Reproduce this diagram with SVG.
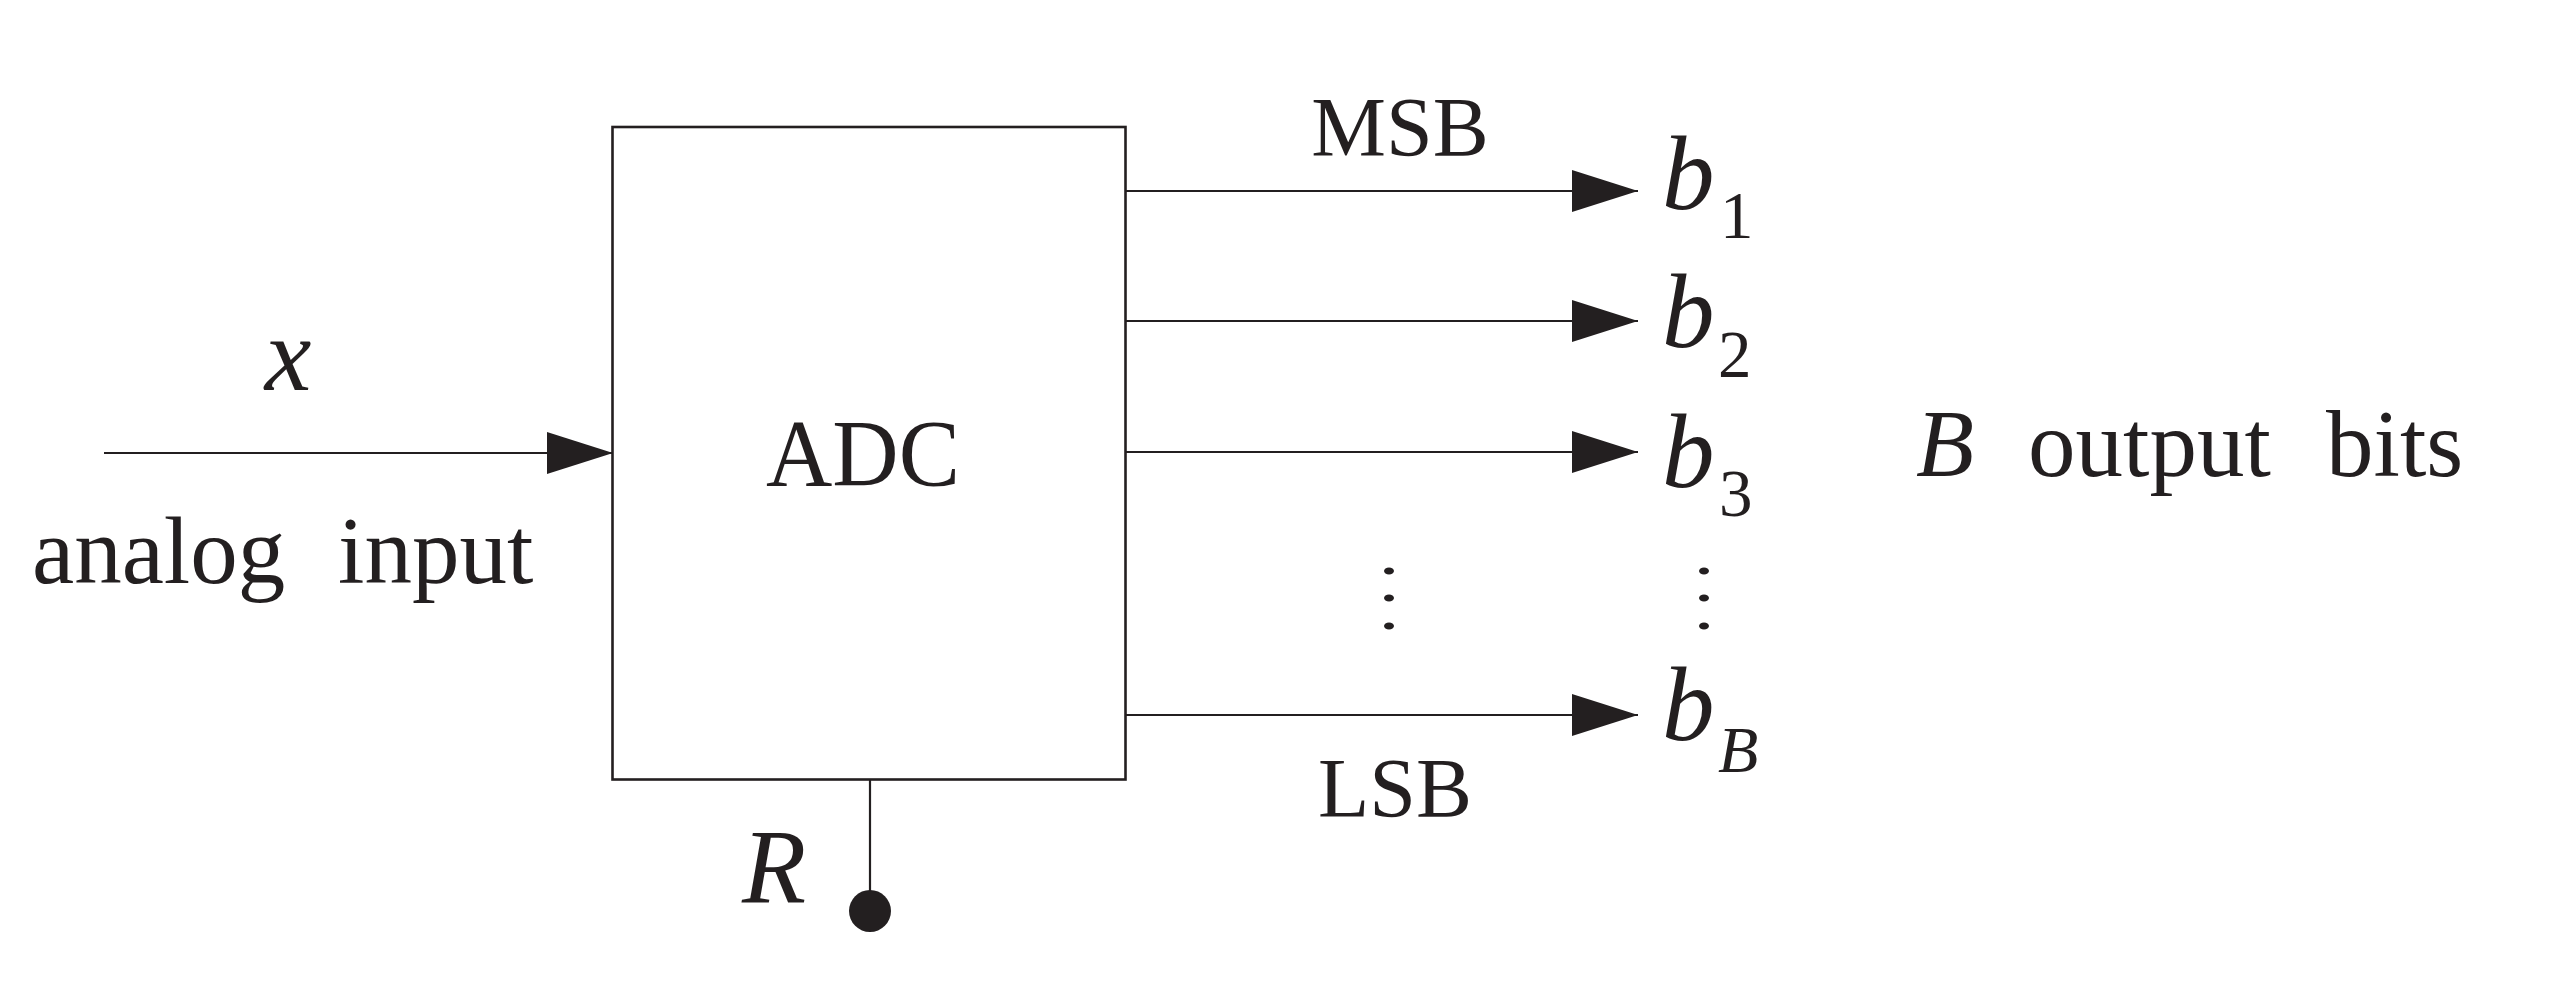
<svg xmlns="http://www.w3.org/2000/svg" width="2552" height="1008" viewBox="0 0 2552 1008">
  <style>
    .ln { stroke: #231f20; stroke-width: 2.2; fill: none; }
    .box { stroke: #231f20; stroke-width: 2.6; fill: #ffffff; }
    .t { font-family: "Liberation Serif", "Times New Roman", serif; fill: #231f20; }
    .rm { font-size: 95px; }
    .sm { font-size: 84px; }
    .mi { font-size: 105px; font-style: italic; }
    .sub { font-size: 67px; }
    .subi { font-size: 66px; font-style: italic; }
    .dot { fill: #231f20; }
  </style>
  <defs>
    <marker id="arr" viewBox="0 0 66 42" refX="66" refY="21" markerWidth="66" markerHeight="42" markerUnits="userSpaceOnUse" orient="auto">
      <path d="M0,0 L66,21 L0,42 Z" fill="#231f20"/>
    </marker>
  </defs>
  <rect width="2552" height="1008" fill="#ffffff"/>

  <g id="connectors">
    <line class="ln" x1="104" y1="453" x2="613" y2="453" marker-end="url(#arr)"/>
    <line class="ln" x1="1126" y1="191" x2="1638" y2="191" marker-end="url(#arr)"/>
    <line class="ln" x1="1126" y1="321" x2="1638" y2="321" marker-end="url(#arr)"/>
    <line class="ln" x1="1126" y1="452" x2="1638" y2="452" marker-end="url(#arr)"/>
    <line class="ln" x1="1126" y1="715" x2="1638" y2="715" marker-end="url(#arr)"/>
    <line class="ln" x1="870" y1="780" x2="870" y2="900"/>
  </g>

  <g id="adc">
    <rect class="box" x="612.5" y="127" width="513" height="652.5"/>
    <text class="t rm" x="863" y="486" text-anchor="middle" textLength="194" lengthAdjust="spacingAndGlyphs">ADC</text>
  </g>

  <g id="input">
    <text class="t mi" x="288" y="390" text-anchor="middle">x</text>
    <text class="t rm" y="583"><tspan x="32">analog</tspan><tspan x="338">input</tspan></text>
  </g>

  <g id="reference">
    <circle class="dot" cx="870" cy="911" r="21"/>
    <text class="t mi" x="742" y="902">R</text>
  </g>

  <g id="outputs">
    <text class="t sm" x="1400" y="156" text-anchor="middle">MSB</text>
    <text class="t sm" x="1395" y="817" text-anchor="middle">LSB</text>
    <text class="t mi" x="1662" y="209">b</text>
    <text class="t sub" x="1720" y="238">1</text>
    <text class="t mi" x="1662" y="347">b</text>
    <text class="t sub" x="1718" y="377">2</text>
    <text class="t mi" x="1662" y="487">b</text>
    <text class="t sub" x="1719" y="516">3</text>
    <text class="t mi" x="1662" y="740">b</text>
    <text class="t subi" x="1718" y="772">B</text>
    <ellipse class="dot" cx="1389" cy="571" rx="5" ry="3.5"/>
    <ellipse class="dot" cx="1389" cy="598" rx="5" ry="3.5"/>
    <ellipse class="dot" cx="1389" cy="626" rx="5" ry="3.5"/>
    <ellipse class="dot" cx="1704" cy="571" rx="5" ry="3.5"/>
    <ellipse class="dot" cx="1704" cy="598" rx="5" ry="3.5"/>
    <ellipse class="dot" cx="1704" cy="626" rx="5" ry="3.5"/>
  </g>

  <g id="bits-label">
    <text class="t rm" y="476"><tspan x="1916" font-style="italic">B</tspan><tspan x="2028">output</tspan><tspan x="2326">bits</tspan></text>
  </g>
</svg>
